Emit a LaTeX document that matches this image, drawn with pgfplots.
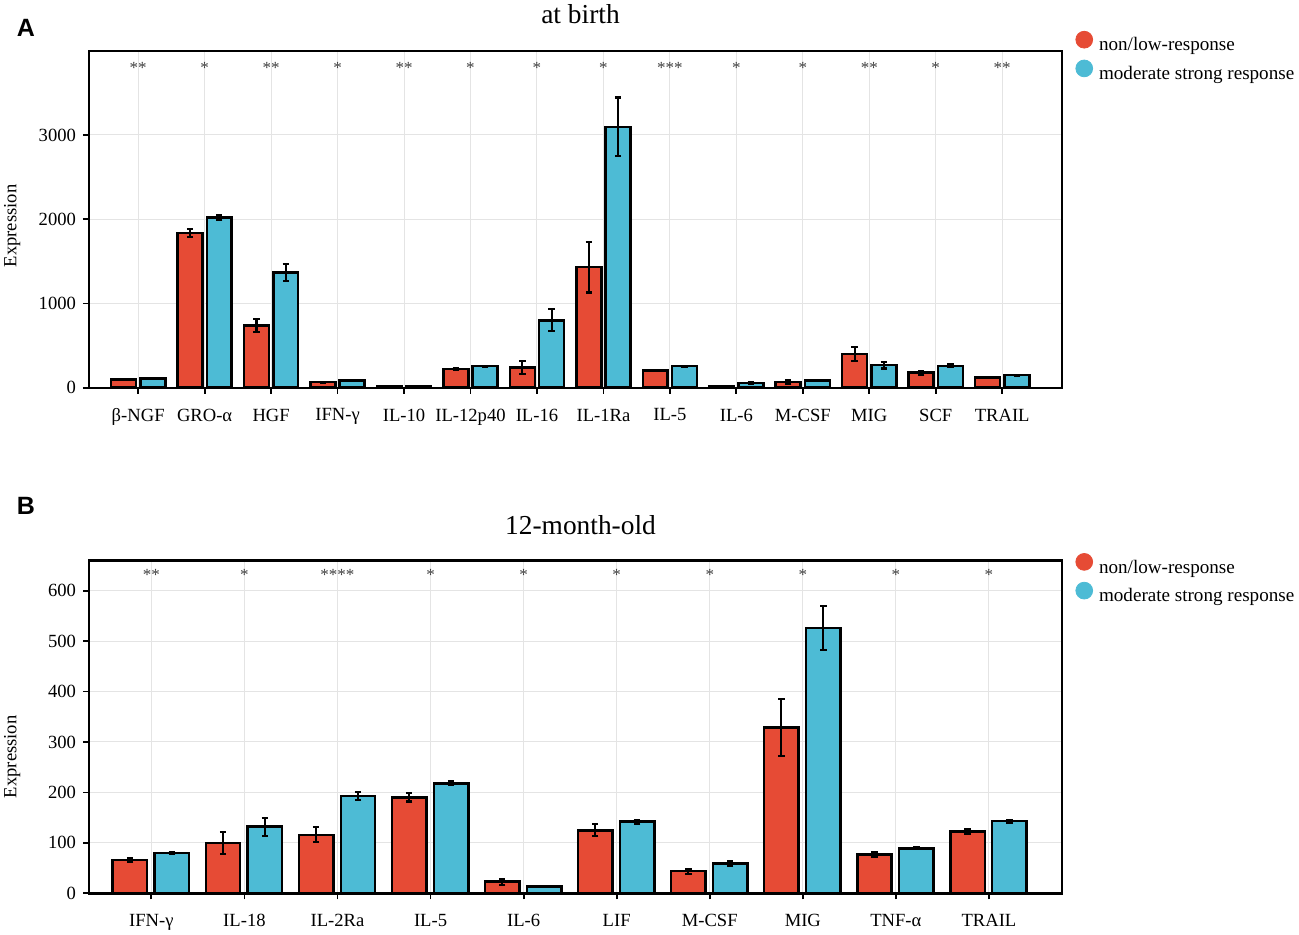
\documentclass[border=0pt]{standalone}
\usepackage{fontspec}
\setmainfont{Liberation Serif}
\newfontfamily\panelfont{Liberation Sans}
\usepackage{pgfplots}
\usepackage{pgfplotstable}
\pgfplotsset{compat=1.18}
\definecolor{npgred}{HTML}{E64B35}
\definecolor{npgblue}{HTML}{4DBBD5}
\definecolor{gridgray}{HTML}{E4E4E4}

\pgfplotstableread{
x red rerr blue berr
0 95 5 110 5
1 1835 50 2020 25
2 740 80 1365 100
3 65 5 85 6
4 18 2 22 2
5 220 8 255 8
6 240 80 800 130
7 1430 300 3095 350
8 205 10 255 8
9 18 2 55 12
10 68 18 85 10
11 400 85 268 40
12 178 25 260 15
13 122 8 150 6
}\birth

\pgfplotstableread{
x y s
0 3800 **
1 3800 *
2 3800 **
3 3800 *
4 3800 **
5 3800 *
6 3800 *
7 3800 *
8 3800 ***
9 3800 *
10 3800 *
11 3800 **
12 3800 *
13 3800 **
}\birthstars

\pgfplotstableread{
x red rerr blue berr
0 66 3 80 2
1 100 22 132 18
2 116 15 193 8
3 190 8 218 4
4 23 6 14 1
5 125 12 142 4
6 44 5 59 4
7 329 56 526 44
8 77 4 89 2
9 123 5 143 3
}\month

\pgfplotstableread{
x y s
0 632 **
1 632 *
2 632 ****
3 632 *
4 632 *
5 632 *
6 632 *
7 632 *
8 632 *
9 632 *
}\monthstars

\pgfplotsset{
  mybase/.style={
    scale only axis,
    width=486.5pt,
    axis line style={line width=1.2pt, black},
    tick style={line width=0.9pt, black},
    major tick length=3pt,
    tick align=outside,
    xtick pos=bottom, ytick pos=left,
    grid=major,
    grid style={gridgray, line width=0.5pt},
    /pgf/number format/assume math mode=true,
    /pgf/number format/1000 sep={},
    ticklabel style={font=\fontsize{9.3}{11}\selectfont},
    xticklabel style={yshift=-4pt},
    ylabel=Expression,
    ylabel style={font=\fontsize{9.3}{11}\selectfont, anchor=center},
    title style={font=\fontsize{13.7}{16}\selectfont, at={(axis description cs:0.5,1)}, anchor=base},
    legend style={draw=none, fill=none, inner sep=0pt, font=\fontsize{9.55}{11}\selectfont, row sep=0.9pt, column sep=1pt, anchor=north west},
    legend cell align=left,
  },
  barbase/.style={ybar, forget plot, draw=black, line width=1.25pt, bar shift=0pt,
    error bars/y dir=both, error bars/y explicit,
    error bars/error bar style={line width=1.05pt, black},
    error bars/error mark options={rotate=90, mark size=1.6pt, line width=1.05pt, black}},
  stars/.style={draw=none, forget plot, nodes near coords, point meta=explicit symbolic,
    every node near coord/.append style={anchor=center, font=\fontsize{8.5}{9}\selectfont, text=black!75}},
}

\begin{document}
\begin{tikzpicture}
\useasboundingbox (0,0) rectangle (649.5pt,-467pt);

\begin{axis}[mybase,
  at={(44.5pt,-193.85pt)}, anchor=south west,
  height=168.5pt,
  xmin=-0.74, xmax=13.9,
  ymin=0, ymax=4000,
  ytick={0,1000,2000,3000},
  xtick={0,...,13},
  xticklabels={β-NGF,GRO-α,HGF,IFN-γ,IL-10,IL-12p40,IL-16,IL-1Ra,IL-5,IL-6,M-CSF,MIG,SCF,TRAIL},
  title={at birth},
  title style={yshift=7.5pt, xshift=2.5pt},
  ylabel style={at={(axis description cs:-0.079,0.48)}},
  legend style={at={(axis description cs:1.0134,1.06)}},
]
\addplot[barbase, fill=npgred, bar width=0.375] table[x expr=\thisrow{x}-0.22, y=red, y error=rerr] {\birth};
\addplot[barbase, fill=npgblue, bar width=0.375] table[x expr=\thisrow{x}+0.22, y=blue, y error=berr] {\birth};
\addplot[stars] table[x=x, y=y, meta=s] {\birthstars};
\addlegendimage{legend image code/.code={\fill[npgred] (0pt,3pt) circle (4.2pt);}}
\addlegendentry{non/low-response}
\addlegendimage{legend image code/.code={\fill[npgblue] (0pt,3pt) circle (4.2pt);}}
\addlegendentry{moderate strong response}
\end{axis}

\begin{axis}[mybase,
  at={(44.5pt,-446.65pt)}, anchor=south west,
  height=166.5pt,
  xmin=-0.67, xmax=9.785,
  ymin=0, ymax=660,
  ytick={0,100,...,600},
  xtick={0,...,9},
  xticklabels={IFN-γ,IL-18,IL-2Ra,IL-5,IL-6,LIF,M-CSF,MIG,TNF-α,TRAIL},
  title={12-month-old},
  title style={yshift=7pt, xshift=2.5pt},
  ylabel style={at={(axis description cs:-0.079,0.41)}},
  legend style={at={(axis description cs:1.0134,1.023)}},
]
\addplot[barbase, fill=npgred, bar width=0.37] table[x expr=\thisrow{x}-0.23, y=red, y error=rerr] {\month};
\addplot[barbase, fill=npgblue, bar width=0.37] table[x expr=\thisrow{x}+0.22, y=blue, y error=berr] {\month};
\addplot[stars] table[x=x, y=y, meta=s] {\monthstars};
\addlegendimage{legend image code/.code={\fill[npgred] (0pt,3pt) circle (4.2pt);}}
\addlegendentry{non/low-response}
\addlegendimage{legend image code/.code={\fill[npgblue] (0pt,3pt) circle (4.2pt);}}
\addlegendentry{moderate strong response}
\end{axis}

\node[font={\panelfont\bfseries\fontsize{12.5}{15}\selectfont}] at (13pt,-14pt) {A};
\node[font={\panelfont\bfseries\fontsize{12.5}{15}\selectfont}] at (13pt,-253pt) {B};
\end{tikzpicture}
\end{document}
